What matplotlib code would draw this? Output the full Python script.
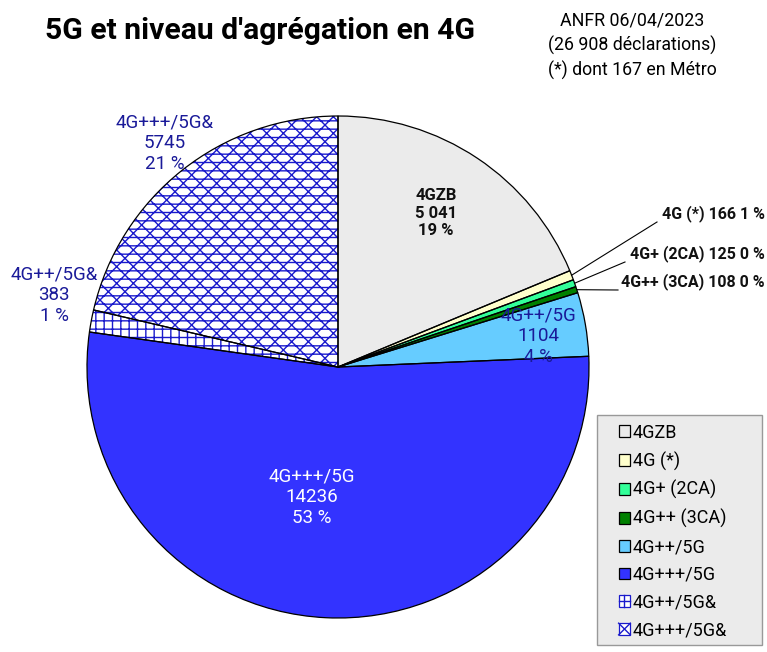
import numpy as np
import matplotlib
matplotlib.use('Agg')
import matplotlib.pyplot as plt
from matplotlib.patches import Patch, Rectangle
from matplotlib.lines import Line2D
from matplotlib.legend_handler import HandlerPatch

# ------------------------------------------------

labels = ['4GZB', '4G (*)', '4G+ (2CA)', '4G++ (3CA)', '4G++/5G', '4G+++/5G', '4G++/5G&', '4G+++/5G&']
values = [5041, 166, 125, 108, 1104, 14236, 383, 5745]
colors = ['#ebebeb', '#ffffcc', '#33ff99', '#008000', '#66ccff', '#3333ff', '#ffffff', '#ffffff']
hatches = [None, None, None, None, None, None, '++', 'xx--']
pie_texts = ['4GZB\n5 041\n19 %', None, None, None, '4G++/5G\n1104\n4 %',
             '4G+++/5G\n14236\n53 %', '4G++/5G&\n383\n1 %', '4G+++/5G&\n5745\n21 %']
callouts = ['4G (*) 166 1 %', '4G+ (2CA) 125 0 %', '4G++ (3CA) 108 0 %']

W, H = 767, 652
plt.rcParams['font.family'] = ['Roboto', 'DejaVu Sans']
plt.rcParams['hatch.linewidth'] = 1.0
HATCH = '#1a1acc'

fig = plt.figure(figsize=(W/100, H/100), dpi=100)
fig.patch.set_facecolor('white')

cx, cy, r = 338, 367, 251
ax = fig.add_axes([(cx-r)/W, (H-cy-r)/H, 2*r/W, 2*r/H])
ax.axis('off')

def px(x, y):  # pixel -> data coords of the pie axes
    return ((x-cx)/r, (cy-y)/r)

# fill + hatch (hatch colour follows edge colour)
w1, _ = ax.pie(values, colors=colors, startangle=90, counterclock=False, radius=1.0,
               wedgeprops=dict(linewidth=0, edgecolor=HATCH))
for w, h in zip(w1, hatches):
    if h:
        w.set_hatch(h)
# outlines
ax.pie(values, colors=['none']*len(values), startangle=90, counterclock=False, radius=1.0,
       wedgeprops=dict(linewidth=0.9, edgecolor='black'))
ax.set_xlim(-1, 1)
ax.set_ylim(-1, 1)
ax.set_aspect('auto')

# labels inside / near wedges
tpos = [(436, 213), None, None, None, (538, 336), (312, 497), (54, 295), (165, 143)]
tcol = ['#111111', None, None, None, '#1a1a99', 'white', '#1a1a99', '#1a1a99']
for t, p, c in zip(pie_texts, tpos, tcol):
    if t:
        x, y = px(*p)
        bold = c == '#111111'
        ax.text(x, y, t, ha='center', va='center', fontsize=12 if bold else 13.5, color=c,
                fontweight='bold' if bold else 'normal', linespacing=1.2, clip_on=False)

# call-outs for the small slices
total = float(sum(values))
ang = 90.0
mids = []
for v in values:
    a = v / total * 360.0
    mids.append(ang - a / 2)
    ang -= a
cpos = [(765, 214), (765, 254), (765, 282)]
lend = [(657, 222), (625, 262), (618, 290)]
for i, (t, p, e) in enumerate(zip(callouts, cpos, lend)):
    m = np.deg2rad(mids[i+1])
    x0, y0 = np.cos(m), np.sin(m)
    x1, y1 = px(*e)
    ax.plot([x0, x1], [y0, y1], color='black', lw=0.8, clip_on=False)
    tx, ty = px(*p)
    ax.text(tx, ty, t, ha='right', va='center', fontsize=11.5, fontweight='bold',
            color='#111111', clip_on=False)

# titles
fig.text(45/W, 1-31/H, "5G et niveau d'agrégation en 4G", fontsize=21.7, fontweight='bold',
         ha='left', va='center')
fig.text(632/W, 1-46/H, 'ANFR 06/04/2023\n(26 908 déclarations)\n(*) dont 167 en Métro',
         fontsize=12.8, ha='center', va='center', linespacing=1.4)

# legend: hand-drawn hatch marks so they sit centred in the little squares
class SquareHandler(HandlerPatch):
    def create_artists(self, legend, orig, xd, yd, width, height, fontsize, trans):
        s = min(width, height)
        x0, y0 = xd * -1 + (width - s) / 2, yd * -1 + (height - s) / 2
        h = orig.get_hatch()
        ec = HATCH if h else 'black'
        arts = [Rectangle((x0, y0), s, s, facecolor=orig.get_facecolor(), edgecolor=ec,
                          lw=0.9, transform=trans)]
        if h and '+' in h:
            arts.append(Line2D([x0, x0+s], [y0+s/2, y0+s/2], color=HATCH, lw=1, transform=trans))
            arts.append(Line2D([x0+s/2, x0+s/2], [y0, y0+s], color=HATCH, lw=1, transform=trans))
        elif h and 'x' in h:
            arts.append(Line2D([x0, x0+s], [y0, y0+s], color=HATCH, lw=1, transform=trans))
            arts.append(Line2D([x0, x0+s], [y0+s, y0], color=HATCH, lw=1, transform=trans))
        return arts

handles = [Patch(facecolor=c, hatch=h, label=l) for l, c, h in zip(labels, colors, hatches)]

fig.patches.append(Rectangle((597/W, 1-645/H), 165/W, 230/H, transform=fig.transFigure,
                             facecolor='#ebebeb', edgecolor='#999999', lw=1.0, zorder=0))
leg = fig.legend(handles=handles, loc='upper left', bbox_to_anchor=(615/W, 1-420/H),
                 frameon=False, fontsize=13, handler_map={Patch: SquareHandler()},
                 handlelength=0.65, handleheight=0.65, handletextpad=0.15,
                 labelspacing=0.54, borderpad=0.2, borderaxespad=0)

fig.savefig('out.png', dpi=100, facecolor='white')
